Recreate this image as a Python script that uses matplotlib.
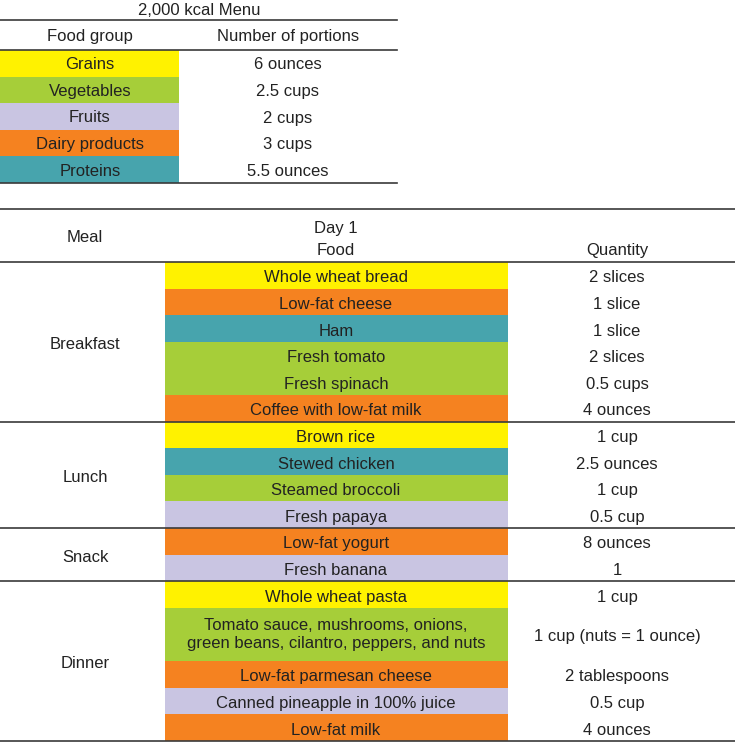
import matplotlib.pyplot as plt
from matplotlib.patches import Rectangle

plt.rcParams['font.family'] = ['Liberation Sans', 'DejaVu Sans']

# Tabela 1: menu de 2000 kcal
groups = ['Grains', 'Vegetables', 'Fruits', 'Dairy products', 'Proteins']
portions = ['6 ounces', '2.5 cups', '2 cups', '3 cups', '5.5 ounces']
group_colors = {
    'Grains': '#FFF200',
    'Vegetables': '#A6CE39',
    'Fruits': '#C9C5E2',
    'Dairy products': '#F58220',
    'Proteins': '#47A4AD',
}

# Tabela 2: dia 1
meals = ['Breakfast', 'Lunch', 'Snack', 'Dinner']
meal_items = [6, 4, 2, 5]
foods = ['Whole wheat bread', 'Low-fat cheese', 'Ham', 'Fresh tomato', 'Fresh spinach',
         'Coffee with low-fat milk',
         'Brown rice', 'Stewed chicken', 'Steamed broccoli', 'Fresh papaya',
         'Low-fat yogurt', 'Fresh banana',
         'Whole wheat pasta',
         'Tomato sauce, mushrooms, onions,\ngreen beans, cilantro, peppers, and nuts',
         'Low-fat parmesan cheese', 'Canned pineapple in 100% juice', 'Low-fat milk']
quantities = ['2 slices', '1 slice', '1 slice', '2 slices', '0.5 cups', '4 ounces',
              '1 cup', '2.5 ounces', '1 cup', '0.5 cup',
              '8 ounces', '1',
              '1 cup', '1 cup (nuts = 1 ounce)', '2 tablespoons', '0.5 cup', '4 ounces']
food_groups = ['Grains', 'Dairy products', 'Proteins', 'Vegetables', 'Vegetables',
               'Dairy products',
               'Grains', 'Proteins', 'Vegetables', 'Fruits',
               'Dairy products', 'Fruits',
               'Grains', 'Vegetables', 'Dairy products', 'Fruits', 'Dairy products']
row_units = [1, 1, 1, 1, 1, 1, 1, 1, 1, 1, 1, 1, 1, 2, 1, 1, 1]

fig = plt.figure(figsize=(7.35, 7.42), dpi=100)
ax = fig.add_axes([0, 0, 1, 1])
ax.set_xlim(0, 735)
ax.set_ylim(742, 0)
ax.axis('off')

fs = 12
txt_c = '#222222'
line_c = '#3a3a3a'
va = 'center_baseline'

# --- tabela de cima ---
ax.text(199, 9, '2,000 kcal Menu', ha='center', va=va, fontsize=fs, color=txt_c)
ax.plot([0, 397], [20, 20], color=line_c, lw=1.2)
ax.text(90, 35, 'Food group', ha='center', va=va, fontsize=fs, color=txt_c)
ax.text(288, 35, 'Number of portions', ha='center', va=va, fontsize=fs, color=txt_c)
ax.plot([0, 397], [50, 50], color=line_c, lw=1.2)
rh_top = 26.6
for i, (g, p) in enumerate(zip(groups, portions)):
    y0 = 50 + i * rh_top
    ax.add_patch(Rectangle((0, y0), 179, rh_top, color=group_colors[g], lw=0))
    ax.text(90, y0 + rh_top / 2, g, ha='center', va=va, fontsize=fs, color=txt_c)
    ax.text(288, y0 + rh_top / 2, p, ha='center', va=va, fontsize=fs, color=txt_c)
ax.plot([0, 397], [183, 183], color=line_c, lw=1.2)

# --- tabela de baixo ---
ax.plot([0, 735], [209, 209], color=line_c, lw=1.2)
ax.text(85, 236, 'Meal', ha='center', va=va, fontsize=fs, color=txt_c)
ax.text(336, 227, 'Day 1', ha='center', va=va, fontsize=fs, color=txt_c)
ax.text(336, 249, 'Food', ha='center', va=va, fontsize=fs, color=txt_c)
ax.text(617, 249, 'Quantity', ha='center', va=va, fontsize=fs, color=txt_c)
ax.plot([0, 735], [262, 262], color=line_c, lw=1.2)

rh = 26.6
y = 262
k = 0
for meal, n in zip(meals, meal_items):
    y_start = y
    for j in range(n):
        h = rh * row_units[k]
        ax.add_patch(Rectangle((165, y), 343, h, color=group_colors[food_groups[k]], lw=0))
        ax.text(336, y + h / 2 + (1 if row_units[k] == 1 else 0), foods[k],
                ha='center', va='center' if row_units[k] > 1 else va,
                fontsize=fs, color=txt_c, linespacing=1.25)
        ax.text(617, y + h / 2 + 1, quantities[k], ha='center', va=va, fontsize=fs,
                color=txt_c)
        y += h
        k += 1
    ax.text(85, (y_start + y) / 2 + 1, meal, ha='center', va=va, fontsize=fs, color=txt_c)
    ax.plot([0, 735], [y, y], color=line_c, lw=1.2)

fig.savefig('out.png', dpi=100)
